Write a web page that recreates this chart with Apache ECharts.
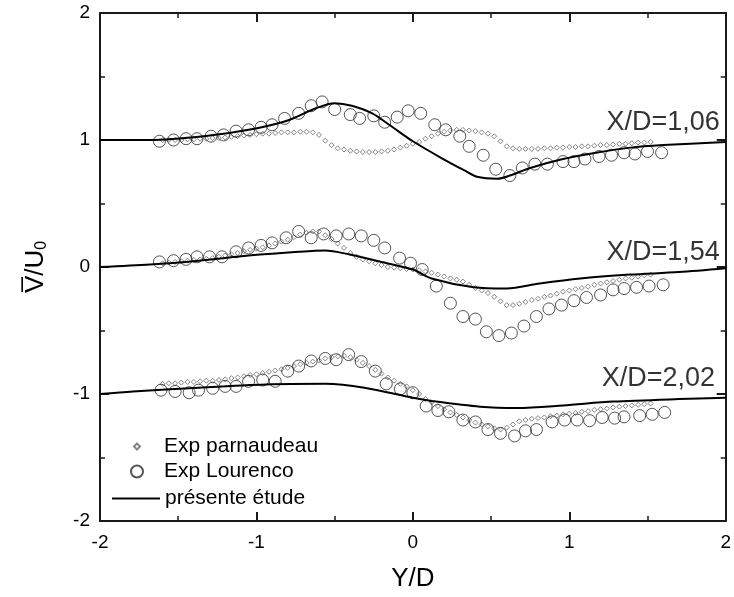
<!DOCTYPE html>
<html>
<head>
<meta charset="utf-8">
<script src="https://cdn.jsdelivr.net/npm/echarts@6/dist/echarts.min.js"></script>
<style>
  html, body { margin: 0; padding: 0; background: #fff; }
  #box { width: 734px; height: 597px; }
</style>
</head>
<body>
<div id="box"></div>
<script>
// abscisses communes des points parnaudeau (Y/D)
var parnX = [-1.60,-1.56,-1.52,-1.48,-1.44,-1.40,-1.36,-1.32,-1.28,-1.24,-1.20,-1.16,-1.12,-1.08,-1.04,-1.00,-0.96,-0.92,-0.88,-0.84,
  -0.80,-0.76,-0.72,-0.68,-0.64,-0.60,-0.56,-0.52,-0.48,-0.44,-0.40,-0.36,-0.32,-0.28,-0.24,-0.20,-0.16,-0.12,-0.08,-0.04,
  0.00,0.04,0.08,0.12,0.16,0.20,0.24,0.28,0.32,0.36,0.40,0.44,0.48,0.52,0.56,0.60,0.64,0.68,0.72,0.76,
  0.80,0.84,0.88,0.92,0.96,1.00,1.04,1.08,1.12,1.16,1.20,1.24,1.28,1.32,1.36,1.40,1.44,1.48,1.52];

// Exp parnaudeau (valeurs décalées comme sur la figure)
var parn106 = [1.00,1.00,1.00,1.00,1.005,1.005,1.01,1.01,1.015,1.015,1.02,1.025,1.03,1.035,1.04,1.045,1.05,1.05,1.055,1.06,
  1.06,1.06,1.065,1.065,1.06,1.04,0.995,0.96,0.935,0.925,0.915,0.91,0.905,0.905,0.905,0.91,0.915,0.925,0.94,0.955,
  0.97,0.985,1.01,1.03,1.05,1.065,1.075,1.08,1.08,1.075,1.07,1.06,1.05,1.03,0.99,0.95,0.935,0.93,0.93,0.93,
  0.93,0.935,0.935,0.94,0.94,0.945,0.945,0.95,0.95,0.955,0.96,0.96,0.965,0.97,0.97,0.975,0.98,0.98,0.985];
var parn154 = [0.03,0.035,0.04,0.045,0.05,0.055,0.06,0.065,0.07,0.08,0.09,0.10,0.11,0.125,0.135,0.145,0.155,0.17,0.185,0.20,
  0.215,0.235,0.255,0.27,0.28,0.28,0.25,0.22,0.185,0.15,0.11,0.08,0.06,0.045,0.03,0.015,0.0,-0.005,-0.01,-0.015,
  -0.02,-0.025,-0.035,-0.045,-0.06,-0.075,-0.09,-0.10,-0.115,-0.14,-0.165,-0.185,-0.205,-0.235,-0.27,-0.30,-0.30,-0.29,-0.275,-0.26,
  -0.25,-0.235,-0.225,-0.21,-0.195,-0.185,-0.175,-0.165,-0.155,-0.14,-0.13,-0.12,-0.11,-0.10,-0.09,-0.085,-0.075,-0.065,-0.06];
var parn202 = [-0.92,-0.915,-0.915,-0.91,-0.905,-0.905,-0.90,-0.895,-0.895,-0.89,-0.885,-0.875,-0.87,-0.86,-0.85,-0.845,-0.835,-0.825,-0.815,-0.805,
  -0.795,-0.78,-0.765,-0.755,-0.745,-0.735,-0.72,-0.71,-0.705,-0.70,-0.71,-0.73,-0.755,-0.78,-0.81,-0.84,-0.87,-0.895,-0.92,-0.94,
  -0.97,-1.00,-1.04,-1.065,-1.095,-1.12,-1.145,-1.165,-1.185,-1.205,-1.225,-1.24,-1.255,-1.27,-1.28,-1.265,-1.24,-1.215,-1.205,-1.195,
  -1.19,-1.185,-1.175,-1.17,-1.16,-1.155,-1.15,-1.14,-1.135,-1.125,-1.12,-1.115,-1.105,-1.10,-1.095,-1.09,-1.085,-1.08,-1.075];

// Exp Lourenco [Y/D, V/U0]
var lour106 = [[-1.62,0.99],[-1.53,1.0],[-1.45,1.01],[-1.38,1.01],[-1.29,1.03],[-1.21,1.04],[-1.13,1.07],[-1.05,1.08],[-0.97,1.1],[-0.9,1.12],
  [-0.82,1.17],[-0.73,1.21],[-0.65,1.27],[-0.58,1.3],[-0.5,1.24],[-0.4,1.2],[-0.34,1.17],[-0.25,1.19],[-0.18,1.14],[-0.1,1.18],
  [-0.03,1.23],[0.05,1.21],[0.14,1.12],[0.21,1.08],[0.3,1.03],[0.36,0.95],[0.45,0.88],[0.53,0.77],[0.62,0.72],[0.7,0.78],
  [0.78,0.81],[0.86,0.81],[0.96,0.83],[1.03,0.83],[1.1,0.85],[1.19,0.87],[1.27,0.88],[1.35,0.9],[1.42,0.89],[1.5,0.91],[1.59,0.9]];
var lour154 = [[-1.62,0.04],[-1.53,0.05],[-1.45,0.06],[-1.38,0.08],[-1.3,0.08],[-1.22,0.08],[-1.13,0.12],[-1.05,0.15],[-0.97,0.17],[-0.9,0.19],
  [-0.81,0.23],[-0.73,0.28],[-0.65,0.23],[-0.57,0.26],[-0.49,0.245],[-0.41,0.26],[-0.33,0.245],[-0.25,0.21],[-0.18,0.15],[-0.085,0.07],
  [-0.015,0.03],[0.06,-0.02],[0.15,-0.15],[0.24,-0.285],[0.32,-0.39],[0.4,-0.41],[0.47,-0.51],[0.55,-0.54],[0.63,-0.52],[0.71,-0.465],
  [0.79,-0.39],[0.87,-0.33],[0.95,-0.3],[1.03,-0.265],[1.11,-0.24],[1.2,-0.22],[1.28,-0.18],[1.35,-0.17],[1.43,-0.16],[1.51,-0.15],[1.6,-0.14]];
var lour202 = [[-1.61,-0.97],[-1.52,-0.98],[-1.43,-0.99],[-1.37,-0.97],[-1.28,-0.955],[-1.2,-0.94],[-1.13,-0.94],[-1.05,-0.9],[-0.96,-0.89],[-0.88,-0.9],
  [-0.8,-0.82],[-0.73,-0.78],[-0.65,-0.74],[-0.56,-0.72],[-0.49,-0.73],[-0.41,-0.69],[-0.33,-0.745],[-0.24,-0.82],[-0.17,-0.92],[-0.08,-0.96],
  [0.0,-0.99],[0.085,-1.095],[0.16,-1.13],[0.23,-1.14],[0.32,-1.205],[0.4,-1.22],[0.48,-1.28],[0.56,-1.31],[0.65,-1.33],[0.72,-1.29],
  [0.79,-1.28],[0.89,-1.22],[0.97,-1.205],[1.05,-1.205],[1.13,-1.21],[1.21,-1.185],[1.29,-1.19],[1.35,-1.18],[1.45,-1.17],[1.53,-1.16],[1.61,-1.145]];

// présente étude
var etude106 = [[-2,1.0],[-1.68,1.0],[-1.3,1.035],[-1.05,1.08],[-0.81,1.15],[-0.62,1.25],[-0.5,1.29],[-0.39,1.27],[-0.26,1.21],[-0.14,1.11],
  [0.0,0.99],[0.18,0.86],[0.33,0.76],[0.41,0.71],[0.54,0.695],[0.62,0.72],[0.75,0.78],[0.96,0.85],[1.17,0.9],[1.39,0.94],[1.6,0.96],[2.0,0.985]];
var etude154 = [[-2,0],[-1.68,0.02],[-1.37,0.05],[-1.05,0.09],[-0.73,0.12],[-0.56,0.13],[-0.41,0.10],[-0.2,0.04],[0.0,-0.02],[0.12,-0.09],
  [0.39,-0.16],[0.6,-0.17],[0.81,-0.13],[1.07,-0.09],[1.39,-0.06],[1.7,-0.04],[2.0,-0.01]];
var etude202 = [[-2,-1.0],[-1.79,-0.98],[-1.37,-0.95],[-0.94,-0.925],[-0.56,-0.92],[-0.31,-0.95],[0.0,-1.03],[0.12,-1.055],[0.43,-1.10],
  [0.67,-1.11],[0.96,-1.09],[1.28,-1.06],[1.7,-1.04],[2.0,-1.03]];

// étiquettes des profils [Y/D, V/U0, texte]
var profils = [[1.60,1.14,'X/D=1,06'],[1.60,0.11,'X/D=1,54'],[1.57,-0.88,'X/D=2,02']];

var police = 'Liberation Sans, Arial, sans-serif';

function avecX(ys) {
  return ys.map(function (y, i) { return [parnX[i], y]; });
}

function parnSerie(ys) {
  return {
    name: 'Exp parnaudeau', type: 'scatter', symbol: 'diamond', symbolSize: 5, z: 2,
    itemStyle: { color: '#fff', borderColor: '#666', borderWidth: 1 },
    data: avecX(ys)
  };
}
function lourSerie(d) {
  return {
    name: 'Exp Lourenco', type: 'scatter', symbol: 'circle', symbolSize: 12, z: 3,
    itemStyle: { color: 'rgba(0,0,0,0)', borderColor: '#2a2a2a', borderWidth: 1 },
    data: d
  };
}
function etudeSerie(d) {
  return {
    name: 'présente étude', type: 'line', showSymbol: false, symbol: 'none', smooth: 0.3, z: 4,
    lineStyle: { color: '#000', width: 2 },
    data: d
  };
}

var axeCommun = {
  min: -2, max: 2, interval: 1,
  axisLine: { show: true, onZero: false, lineStyle: { color: '#1a1a1a', width: 2 } },
  axisTick: { show: true, inside: true, length: 9, lineStyle: { color: '#1a1a1a', width: 2 } },
  minorTick: { show: true, splitNumber: 2, length: 5, lineStyle: { color: '#1a1a1a', width: 1.5 } },
  splitLine: { show: false }
};

var texteLegende = { fontFamily: police, fontSize: 21, color: '#000' };

var option = {
  animation: false,
  backgroundColor: '#fff',
  grid: { left: 100, right: 4, top: 13, bottom: 74 },
  legend: [
    { data: ['Exp parnaudeau'], left: 128, top: 431, itemWidth: 6, itemHeight: 6, selectedMode: false,
      textStyle: Object.assign({ padding: [0, 0, 0, 19] }, texteLegende) },
    { data: ['Exp Lourenco'], left: 125, top: 456, itemWidth: 12, itemHeight: 12, selectedMode: false,
      textStyle: Object.assign({ padding: [0, 0, 0, 16] }, texteLegende) },
    { data: [{ name: 'présente étude', icon: 'rect', itemStyle: { color: '#000' } }],
      left: 107, top: 483, itemWidth: 48, itemHeight: 2, selectedMode: false,
      textStyle: Object.assign({ padding: [0, 0, 0, 0] }, texteLegende) }
  ],
  xAxis: [
    Object.assign({}, axeCommun, {
      type: 'value', position: 'bottom',
      name: 'Y/D', nameLocation: 'middle', nameGap: 45,
      nameTextStyle: { fontFamily: police, fontSize: 26, color: '#000' },
      axisLabel: { fontFamily: police, fontSize: 19, color: '#000', margin: 12 }
    }),
    Object.assign({}, axeCommun, { type: 'value', position: 'top', axisLabel: { show: false } })
  ],
  yAxis: [
    Object.assign({}, axeCommun, {
      type: 'value', position: 'left',
      name: '{a|V\u0305/U}{b|0}', nameLocation: 'middle', nameRotate: 90, nameGap: 50,
      nameTextStyle: {
        fontFamily: police, color: '#000',
        rich: {
          a: { fontFamily: police, fontSize: 26, color: '#000' },
          b: { fontFamily: police, fontSize: 16, color: '#000', padding: [12, 0, 0, 0] }
        }
      },
      axisLabel: { fontFamily: police, fontSize: 19, color: '#000', margin: 10 }
    }),
    Object.assign({}, axeCommun, { type: 'value', position: 'right', axisLabel: { show: false } })
  ],
  series: [
    parnSerie(parn106), parnSerie(parn154), parnSerie(parn202),
    lourSerie(lour106), lourSerie(lour154), lourSerie(lour202),
    etudeSerie(etude106), etudeSerie(etude154), etudeSerie(etude202),
    {
      name: 'profils', type: 'scatter', symbolSize: 0, z: 5, silent: true,
      label: {
        show: true, position: 'inside', fontFamily: police, fontSize: 27, color: '#000',
        formatter: function (p) { return p.value[2]; }
      },
      data: profils
    }
  ]
};

var chart = echarts.init(document.getElementById('box'));
chart.setOption(option);
</script>
</body>
</html>
